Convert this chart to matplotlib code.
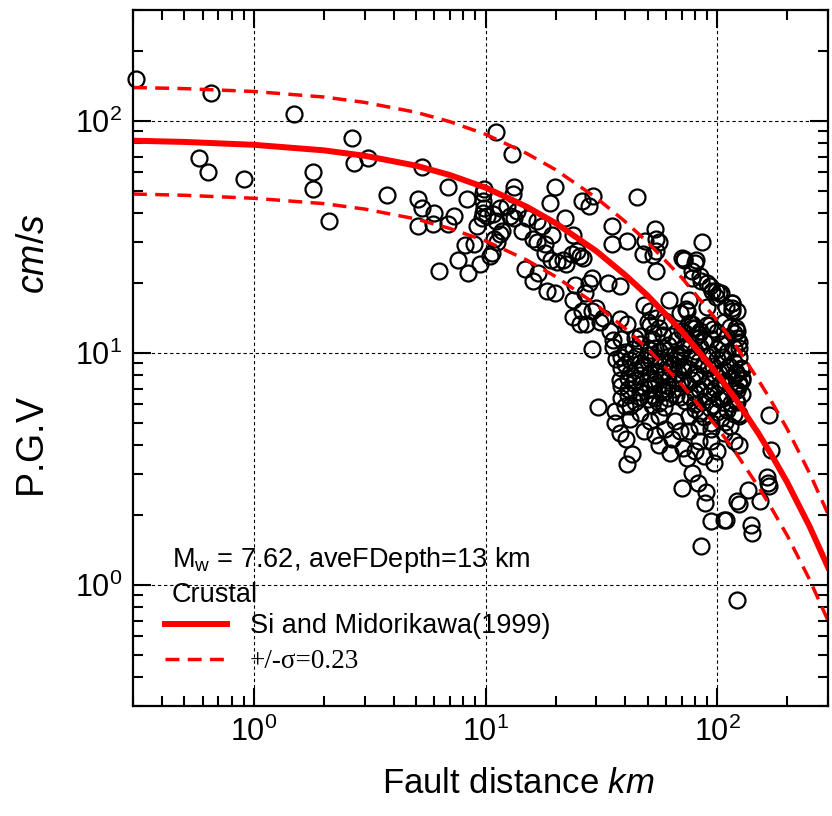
import numpy as np
import matplotlib.pyplot as plt
from matplotlib.lines import Line2D

plt.rcParams['font.family'] = ['Liberation Sans', 'DejaVu Sans']
plt.rcParams['mathtext.fontset'] = 'custom'
plt.rcParams['mathtext.rm'] = 'Liberation Sans'
plt.rcParams['mathtext.it'] = 'Liberation Sans:italic'
plt.rcParams['mathtext.bf'] = 'Liberation Sans:bold'

# attenuation curve (Si and Midorikawa 1999)
curve_dist = [0.3, 0.5, 1, 2, 3, 5, 7, 10, 15, 20, 30, 40, 50, 70, 100, 120, 150, 170, 200, 250, 300]
curve_med = [82, 81, 78.7, 74.5, 70.6, 64, 58.3, 51.4, 42.6, 36.2, 27.4, 21.6, 17.6, 12.4, 8.07, 6.29, 4.5, 3.67, 2.76, 1.78, 1.19]
curve_hi = [139, 137.5, 133.6, 126.5, 119.9, 108.7, 99, 87.3, 72.3, 61.5, 46.5, 36.7, 29.9, 21.1, 13.7, 10.7, 7.64, 6.23, 4.69, 3.02, 2.02]
curve_lo = [48.3, 47.7, 46.3, 43.9, 41.6, 37.7, 34.3, 30.3, 25.1, 21.3, 16.1, 12.7, 10.4, 7.3, 4.75, 3.70, 2.65, 2.16, 1.63, 1.05, 0.70]

# observed records
near_dist = [0.31, 0.65, 1.49, 0.58, 0.63, 0.90, 1.8, 1.8, 2.1, 2.65, 2.7, 3.1, 3.75]
near_pgv = [152, 131, 107, 69, 60, 56, 60, 51, 37, 84, 66, 69, 48]

mid_dist = [11.1, 13, 5.3, 6.9, 5.1, 5.3, 5.1, 6.0, 5.9, 7.3, 6.9, 8.3, 6.3, 7.6, 8.4, 8.1, 8.9, 9.2, 9.4, 10.4,
            10.6, 9.8, 9.7, 9.7, 9.8, 9.7, 10.1, 9.6, 10.7, 11.1, 11.5, 10.9, 11.5, 11.2, 11.8, 13.3, 13.1, 12.4, 12.7, 13.3,
            13.7, 14.4, 15, 14.7, 16, 16.6, 17.4, 16, 16.8, 16.6, 18, 18.3, 18, 18.9, 19.8, 19.4, 19.8, 19.2, 20.2, 21.5,
            22.3, 21.9, 23.5, 24.7, 25.5, 25.9, 28, 29, 24.3, 23.7, 26.7, 28, 23.7, 25.9, 27.2, 28.6, 30, 23.7, 26.2, 28.6]
mid_pgv = [89, 72, 63, 52, 46, 42, 35, 40, 36, 39, 36, 46, 22.5, 25, 22, 29, 29.5, 35, 24, 26,
           27, 51, 49, 45, 42, 40, 39, 38, 39.5, 37, 42, 31, 32.5, 30, 33.5, 52, 48.5, 43, 39, 38,
           41, 33.6, 38, 23, 31, 37, 35, 20.4, 22, 30, 29.5, 18.5, 27, 44, 52, 32, 18, 25, 24.5, 25,
           24, 38, 26.7, 27.5, 26, 45, 43, 47.5, 19.5, 16.8, 18, 20, 14.2, 15.2, 13.3, 15.2, 15.6, 32, 25.6, 21]

far_dist = [45, 35, 35, 40.5, 48.5, 47.5, 53.5, 54.5, 56, 54.5, 54.5, 52.5, 33.6, 37.8, 25.5, 32, 31, 37.8, 40.5, 34.2,
            35.3, 28.6, 38.5, 51, 54.5, 50, 56, 52.5, 48.4, 50.9, 59.1, 46.1, 63.5, 68.6, 62, 30.4, 36, 40.5, 42.6, 40.1]
far_pgv = [47, 35, 29.5, 30.4, 30.4, 26.7, 34, 31, 30, 27.5, 22.6, 26.3, 20, 19.4, 13.3, 14.1, 13.5, 14, 13.3, 12.4,
           11.3, 10.4, 11.5, 15.2, 14.1, 13.5, 12.8, 12.1, 16, 13.1, 13.7, 11.8, 11.8, 14.8, 16.8, 5.85, 5.0, 3.32, 3.67, 4.26]

band_dist = [86, 70, 72, 81, 78, 84, 90, 95, 99, 116, 116, 109, 74, 90, 72, 80, 78, 85, 92.4, 99,
             102, 115, 121, 122, 124, 73.5, 78, 84, 90, 126, 127, 128, 120, 124, 122, 120, 124, 104, 116, 120,
             122, 78, 75.7]
band_pgv = [30, 25.7, 25, 25, 22.6, 21.5, 20, 18.5, 17.3, 16.3, 15.2, 15.7, 15.2, 15.7, 25.4, 24.4, 21, 20.4, 19.4, 18.5,
            18, 16.4, 15.2, 12.4, 10.5, 15.5, 12.8, 12.4, 13.1, 8.6, 7.8, 6.66, 8.1, 7.4, 6.9, 6.2, 5.45, 18, 15.6, 12.8,
            11.6, 13.3, 16.8]

blob1_dist = [46.1, 53.5, 61, 39.7, 49.9, 56.2, 65.3, 41.8, 46.1, 50.9, 59.1, 67.3, 38.5, 43.9, 48.4, 53.5, 62.1, 70.7,
              40.9, 46.1, 50.9, 57.4, 65.3, 38.5, 43, 48.4, 54, 61, 68.6, 40.9, 46.1, 52, 58.5, 66, 43.9, 49.9, 56.2,
              43, 50.9, 58.5, 38.5, 44.5, 53.5, 62, 69, 40, 47.5, 56, 64.5, 41.8, 51, 58.5, 67.5,
              37.8, 43.9, 53.5, 61, 70, 40.9, 50.9, 58, 64.5, 38.5, 46.1, 53.5, 61, 69, 41.8, 52, 59,
              44, 52, 58, 66, 70, 35.5, 36.5]
blob1_pgv = [10.9, 10.5, 10.8, 10.1, 9.8, 10.2, 9.9, 9.3, 9.0, 9.4, 9.1, 9.3, 8.6, 8.4, 8.7, 8.3, 8.6, 8.4,
             7.8, 8.0, 7.7, 7.95, 7.8, 7.2, 7.4, 7.1, 7.35, 7.2, 7.4, 6.6, 6.8, 6.55, 6.75, 6.6, 6.1, 6.3, 6.05,
             10.4, 10.3, 10.45, 9.6, 9.65, 9.55, 9.7, 9.6, 8.9, 8.85, 8.95, 8.9, 8.2, 8.15, 8.25, 8.2,
             7.6, 7.65, 7.55, 7.6, 7.65, 7.0, 7.05, 6.95, 7.0, 6.4, 6.45, 6.35, 6.4, 6.45, 5.9, 5.95, 5.85,
             11.6, 11.5, 11.9, 11.3, 12.4, 10.6, 9.4]

low_dist = [36, 39.7, 41.8, 46.1, 50.9, 56.2, 48.4, 53.5, 59.1, 56.2, 63.5, 68.6, 62.1, 70.7, 74, 79.6, 83.6, 87.9, 75.7, 94,
            100, 65.3, 75.7, 83.6, 94, 107, 118, 37.8]
low_pgv = [5.6, 5.9, 5.2, 5.5, 5.1, 5.35, 4.6, 4.4, 4.7, 4.0, 4.25, 4.6, 3.7, 3.9, 3.5, 3.78, 4.17, 3.6, 4.6, 4.17,
           3.78, 5.1, 5.35, 4.85, 4.7, 4.5, 4.17, 4.5]

blob2_dist = [75.7, 92.4, 107, 72.1, 83.6, 100, 118, 75.7, 87.9, 104, 124, 69.4, 79.6, 94, 110, 83.6, 100, 118,
              75.7, 90.6, 107, 128, 82, 97.1, 115, 74, 87.9, 104, 124, 79.6, 94, 110, 72.1, 85.7, 102, 122,
              79.6, 92.4, 110, 87.9, 104, 124, 113,
              80, 96, 113, 79.6, 94, 110, 72, 84, 100, 118, 77, 90, 106, 124, 71, 87, 96, 112,
              80, 102, 120, 78, 92.4, 108, 128, 83.6, 98, 118, 76, 90, 106, 80, 96, 114, 84, 100, 118, 94, 108]
blob2_pgv = [13.4, 13.2, 13.5, 12.2, 12.0, 12.3, 12.1, 11.0, 11.2, 10.9, 11.1, 10.0, 10.2, 9.9, 10.1, 9.2, 9.4, 9.1,
             8.5, 8.6, 8.4, 8.5, 7.9, 8.0, 7.8, 7.3, 7.2, 7.4, 7.25, 6.7, 6.8, 6.6, 6.2, 6.1, 6.3, 6.15,
             5.7, 5.75, 5.65, 5.3, 5.25, 5.35, 4.85,
             12.8, 12.7, 12.9, 11.6, 11.5, 11.7, 10.5, 10.6, 10.4, 10.5, 9.6, 9.7, 9.55, 9.6, 8.8, 8.85, 8.75, 8.8,
             8.2, 8.15, 8.25, 7.6, 7.65, 7.55, 7.6, 7.0, 7.05, 6.95, 6.45, 6.5, 6.4, 6.0, 5.95, 6.05, 5.5, 5.55, 5.45, 5.0, 5.05]

tail_dist = [167, 170, 163, 165, 167, 152, 135, 122, 124, 140, 141, 107, 109, 94, 85, 121, 70, 88, 89, 82, 78, 97, 124]
tail_pgv = [5.4, 3.8, 2.9, 2.75, 2.65, 2.3, 2.55, 2.3, 2.23, 1.8, 1.67, 1.9, 1.9, 1.89, 1.47, 0.86, 2.6, 2.25, 2.5, 2.75,
            3.04, 3.35, 4.0]

obs_dist = near_dist + mid_dist + far_dist + band_dist + blob1_dist + low_dist + blob2_dist + tail_dist
obs_pgv = near_pgv + mid_pgv + far_pgv + band_pgv + blob1_pgv + low_pgv + blob2_pgv + tail_pgv

fig = plt.figure(figsize=(8.32, 8.16), dpi=100)
ax = fig.add_axes([133 / 832, 1 - 706 / 816, 695 / 832, 696 / 816])

ax.plot(obs_dist, obs_pgv, linestyle='none', marker='o', markersize=11.5,
        markerfacecolor='none', markeredgecolor='black', markeredgewidth=1.6, clip_on=False)

ax.plot(curve_dist, curve_med, color='red', linewidth=4.3)
ax.plot(curve_dist, curve_hi, color='red', linewidth=2.5, linestyle=(0, (4, 2.4)))
ax.plot(curve_dist, curve_lo, color='red', linewidth=2.5, linestyle=(0, (4, 2.4)))

ax.set_xscale('log')
ax.set_yscale('log')
ax.set_xlim(0.3, 300)
ax.set_ylim(0.3, 300)

ax.grid(True, which='major', color='black', linestyle=(0, (3, 2.5)), linewidth=0.8)
ax.tick_params(which='both', direction='in', top=True, right=True, width=1.5)
ax.tick_params(which='major', length=13, labelsize=22, pad=8)
ax.tick_params(which='minor', length=7)
for s in ax.spines.values():
    s.set_linewidth(1.6)

ax.set_xlabel('Fault distance $\\mathit{km}$', fontsize=25)
ax.xaxis.set_label_coords(0.555, -0.088)
ax.set_ylabel('P.G.V          $\\mathit{cm/s}$', fontsize=27)
ax.yaxis.set_label_coords(-0.117, 0.504)

ax.text(0.056, 0.21, 'M$_\\mathrm{w}$ = 7.62, aveFDepth=13 km', transform=ax.transAxes,
        fontsize=19.5, va='center', ha='left')
ax.text(0.056, 0.159, 'Crustal', transform=ax.transAxes, fontsize=19.5, va='center', ha='left')

handles = [Line2D([], [], color='red', linewidth=4.3),
           Line2D([], [], color='red', linewidth=2.5, linestyle=(0, (4, 2.4)))]
leg = ax.legend(handles, ['Si and Midorikawa(1999)', '+/-σ=0.23'], loc='lower left',
                bbox_to_anchor=(0.03, 0.03), frameon=False, fontsize=19.5,
                handlelength=2.3, handletextpad=0.85, labelspacing=0.38, borderaxespad=0)
leg.get_texts()[1].set_fontfamily(['Liberation Serif', 'DejaVu Serif'])

fig.savefig('out.png', dpi=100)
